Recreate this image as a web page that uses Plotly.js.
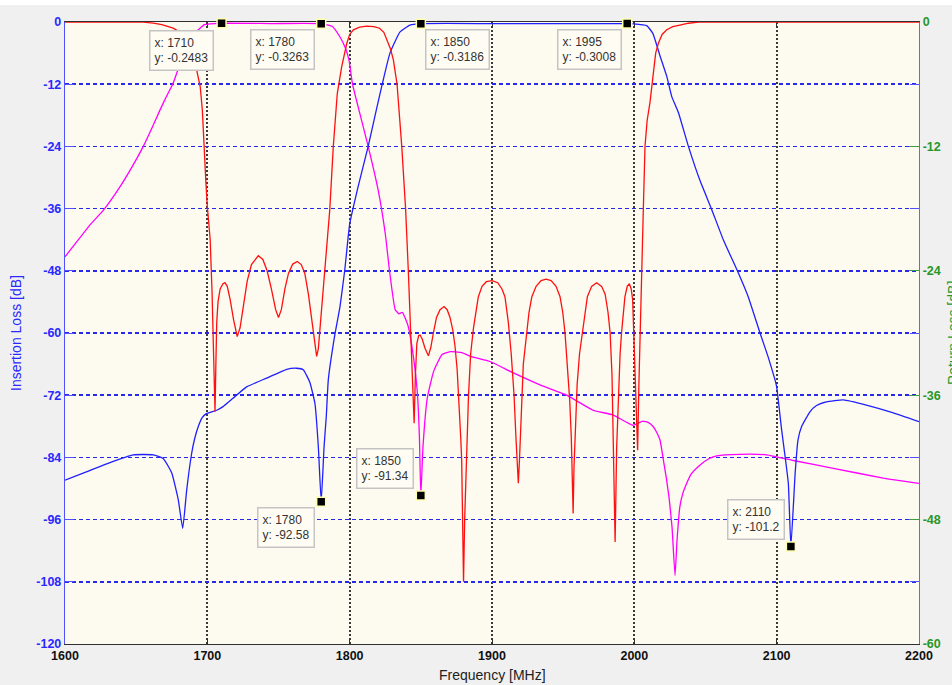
<!DOCTYPE html>
<html>
<head>
<meta charset="utf-8">
<script src="https://cdn.plot.ly/plotly-3.0.1.min.js"></script>
<style>
  html, body { margin: 0; padding: 0; background: #F0F0F0; }
  #chart { width: 952px; height: 685px; }
</style>
</head>
<body>
<div id="chart"></div>
<script>
// ---- Tx path insertion loss (magenta), dB, left axis ----
const txFreq = [1600, 1609.4, 1618, 1627, 1638.6, 1647, 1655, 1661, 1666.7, 1671, 1676, 1679, 1682, 1685,
  1687.8, 1691, 1694.9, 1698, 1710, 1745, 1780,
  1788, 1793, 1797, 1799.5, 1802, 1807, 1813, 1820, 1825, 1828, 1832, 1834.7, 1837, 1841, 1845, 1847.5, 1849,
  1850, 1851.5, 1854.5, 1859, 1864.8, 1870.6, 1878.8, 1885, 1898.6, 1915, 1933.7, 1952.5, 1971, 1985, 1999,
  2006, 2010, 2013, 2015, 2018, 2020.4, 2022.5, 2024.5, 2026.5, 2028.6, 2030, 2032, 2034, 2036.8, 2040, 2046,
  2052, 2057.9, 2074, 2093, 2111.7, 2139.8, 2174.9, 2200];
const txLoss = [-45.3, -42, -39, -36.3, -31.8, -28, -24, -20.5, -17, -14.5, -11.8, -9.5, -7.3, -5.2,
  -3.5, -2.2, -1.2, -0.5, -0.2483, -0.3, -0.3263,
  -0.9, -2.8, -5, -7.3, -12, -17.5, -24, -32.4, -40.8, -48, -55.5, -56.3, -56, -58.6, -65, -71.3, -80,
  -91.34, -82, -72.6, -67.4, -64.2, -63.6, -63.8, -64.5, -65.5, -67.7, -70, -72, -74.9, -75.8, -77.8,
  -77, -77.3, -78, -78.8, -80.6, -84.5, -88, -92, -97.5, -106.8, -100, -93.5, -91, -89, -87.2, -85.5,
  -84.3, -83.7, -83.4, -83.5, -84.6, -86.1, -88, -89];

// ---- Rx path insertion loss (blue), dB, left axis ----
const rxFreq = [1600, 1615, 1631.6, 1648, 1662, 1669, 1675, 1679.6, 1682.7, 1685.5, 1689, 1691, 1693.7, 1696.5,
  1699.6, 1706.6, 1711, 1718, 1727.6, 1741.7, 1755.8, 1762.8, 1767.4, 1772, 1775.6, 1778, 1780, 1782, 1783.6,
  1785, 1789.6, 1793.2, 1796.5, 1798, 1800, 1805.9, 1813, 1818.7, 1822.8, 1828.3, 1835.4, 1842.4, 1850, 1900,
  1950, 1995, 1999, 2008.7, 2013, 2018, 2022.8, 2026.3, 2031, 2038, 2046, 2054.4, 2062.5, 2072.4, 2080, 2088.3,
  2094, 2098.8, 2100, 2103.5, 2106, 2108.2, 2110, 2113, 2115, 2117.6, 2123.4, 2128, 2135, 2146.8, 2163, 2182, 2200];
const rxLoss = [-88.4, -86.8, -85, -83.5, -83.5, -84.2, -87, -92.2, -97.7, -90.3, -83.2, -80.5, -78, -76.3,
  -75.5, -74.9, -74.2, -72.6, -70.4, -68.7, -67, -66.8, -67.1, -69.5, -73.6, -82, -92.58, -82, -76,
  -69, -60.3, -54.9, -48, -44, -39, -31.8, -24, -17, -12.1, -6, -1.9, -0.6, -0.3186, -0.3,
  -0.3, -0.3008, -0.35, -0.7, -2.2, -6.5, -10.5, -14.4, -17.5, -24, -30.5, -36.2, -42, -48, -53, -60,
  -64.6, -69, -70.4, -78.7, -84, -89, -101.2, -87, -80.6, -78, -75.2, -74, -73.3, -72.9, -73.9, -75.4, -77.1];

// ---- Return loss (red), dB, right axis ----
const rlFreq = [1600, 1640, 1655, 1662, 1668, 1676, 1681, 1685.5, 1689, 1691, 1693, 1695, 1696.5, 1697.6,
  1699, 1700, 1702, 1703.3, 1704.2, 1705.4, 1706, 1706.6, 1707.5, 1709, 1711, 1712.4, 1714, 1716, 1718.5,
  1721, 1723, 1725, 1728, 1731, 1735.8, 1739, 1742, 1745, 1748, 1750, 1752, 1754.5, 1757, 1760, 1763.2,
  1766, 1768.5, 1771, 1773.5, 1775.5, 1776.8, 1778, 1779.5, 1781, 1782.7, 1784.5, 1786, 1788.5, 1791.3,
  1794.4, 1796.5, 1798, 1800, 1802.6, 1807, 1812, 1817, 1821, 1824, 1826.4, 1828.7, 1830.7, 1833.3, 1836.6,
  1839.3, 1841.2, 1842.9, 1844.7, 1845.3, 1846.2, 1847.2, 1848.5, 1849.5, 1851, 1853, 1855.3, 1857, 1858.8,
  1861, 1863.5, 1866.3, 1868.5, 1870.5, 1872.5, 1874, 1875.5, 1876.8, 1878, 1878.7, 1879.5, 1880, 1880.8,
  1881.5, 1882.3, 1883.5, 1885, 1887, 1890.4, 1893, 1896, 1900, 1904, 1907, 1909.1, 1911.5, 1913.5, 1915.5,
  1916.8, 1917.8, 1918.5, 1919.3, 1920.5, 1922, 1924.4, 1926, 1928, 1931, 1934.5, 1938, 1941.5, 1945, 1947.8,
  1949.7, 1951.3, 1953, 1954.6, 1955.7, 1956.4, 1957, 1957.6, 1958.5, 1959.8, 1961.5, 1963.5, 1965, 1967,
  1970, 1973.5, 1977, 1979.5, 1981.5, 1983, 1984.3, 1985.2, 1986.5, 1987.6, 1988.8, 1990, 1991, 1992.2,
  1993.4, 1995, 1996.5, 1997.8, 1998.8, 1999.6, 2000.5, 2001.3, 2002.3, 2003.2, 2004, 2005.2, 2006.3, 2007.5,
  2009, 2011, 2013.4, 2015, 2016.9, 2019.5, 2022.8, 2027, 2032, 2038, 2045, 2200];
const rlLoss = [0, 0, -0.02, -0.1, -0.25, -0.6, -1, -1.75, -2.8, -3.65, -4.8, -6.25, -8.5, -12,
  -15.5, -17.8, -21, -26, -32.3, -37.6, -33, -29, -27, -25.75, -25.25, -25.15, -25.5, -26.75, -28.75,
  -30.35, -29.5, -27.5, -25, -23.4, -22.55, -22.9, -24, -25.75, -27.75, -28.5, -27.75, -25.75, -24.25, -23.35, -23.1,
  -23.4, -24.25, -26.25, -29, -31.25, -32.25, -31.5, -29, -26.5, -24, -21, -18.15, -12, -6.9,
  -4.3, -2.8, -2.05, -1.2, -0.75, -0.5, -0.4, -0.45, -0.6, -1, -1.75, -2.6, -3.65, -6, -12,
  -18, -24, -30, -36, -38.7, -34, -31, -30.25, -30.2, -30.6, -31.5, -32.2, -31.4, -30,
  -28.5, -27.75, -27.45, -27.75, -28.5, -29.75, -31.25, -33.5, -36.5, -40, -42.25, -47.5, -54, -48,
  -44.5, -42.25, -36, -32, -29.5, -26.5, -25.5, -25.05, -24.95, -25.15, -25.75, -26.5, -29, -32, -36,
  -40, -42.25, -44.5, -42.25, -37.5, -33, -30, -28, -26.5, -25.5, -24.95, -24.8, -24.95, -25.5, -26.5,
  -28, -30, -33, -36.5, -40, -43, -47.4, -43, -39, -35, -32, -30, -28, -26.5,
  -25.5, -25.15, -25.5, -26.25, -28, -30, -34, -41, -50.15, -41, -36, -32, -30, -28,
  -26.5, -25.5, -25.25, -25.75, -26.75, -30, -34, -38, -41.3, -35, -30, -24, -18.15, -12,
  -9.5, -7.75, -4.5, -3, -2.05, -1.2, -0.75, -0.45, -0.3, -0.12, 0, 0];

// ---- Data tips ----
const tipFreq  = [1710, 1780, 1850, 1995, 1780, 1850, 2110];
const tipValue = [-0.2483, -0.3263, -0.3186, -0.3008, -92.58, -91.34, -101.2];
const tipShiftX = [-40, -39, 37, -38, -35, -36, -35];
const tipShiftY = [-27, -26, -26, -26, -26, 27, 27];

// ---- Axis ticks ----
const freqTicks = [1600, 1700, 1800, 1900, 2000, 2100, 2200];
const ilTicks = [0, -12, -24, -36, -48, -60, -72, -84, -96, -108, -120];
const rlTicks = [0, -12, -24, -36, -48, -60];

const FONT = 'Arial, "Liberation Sans", sans-serif';
const BLUE = 'rgb(40,40,255)';
const GREEN = 'rgb(40,150,40)';

const traces = [
  { x: txFreq, y: txLoss, type: 'scatter', mode: 'lines', yaxis: 'y',
    line: { color: '#FF00FF', width: 1.3, shape: 'spline', smoothing: 0.4 }, hoverinfo: 'skip', showlegend: false },
  { x: rxFreq, y: rxLoss, type: 'scatter', mode: 'lines', yaxis: 'y',
    line: { color: '#2020FF', width: 1.3, shape: 'spline', smoothing: 0.4 }, hoverinfo: 'skip', showlegend: false },
  { x: tipFreq, y: tipValue, type: 'scatter', mode: 'markers', yaxis: 'y', cliponaxis: false,
    marker: { symbol: 'square', size: 9, color: '#000000', line: { color: '#FFFFB0', width: 1.5 } },
    hoverinfo: 'skip', showlegend: false },
  { x: rlFreq, y: rlLoss, type: 'scatter', mode: 'lines', yaxis: 'y2',
    line: { color: '#FF1010', width: 1.3 }, hoverinfo: 'skip', showlegend: false }
];

const annotations = tipFreq.map((f, i) => ({
  x: f, y: tipValue[i], xref: 'x', yref: 'y',
  text: 'x: ' + f + '<br>y: ' + tipValue[i],
  showarrow: false, align: 'left', xanchor: 'center', yanchor: 'middle',
  xshift: tipShiftX[i], yshift: tipShiftY[i],
  font: { family: FONT, size: 12, color: '#333333' },
  bgcolor: '#FFFDF3', bordercolor: '#C4C4C4', borderwidth: 1.5, borderpad: 4
}));

annotations.push(
  { text: 'Insertion Loss [dB]', xref: 'paper', yref: 'paper', x: 0, y: 0.5,
    xshift: -49, textangle: -90, showarrow: false, xanchor: 'center', yanchor: 'middle',
    font: { family: FONT, size: 14, color: BLUE } },
  { text: 'Return Loss [dB]', xref: 'paper', yref: 'paper', x: 1, y: 0.5,
    xshift: 34, textangle: -90, showarrow: false, xanchor: 'center', yanchor: 'middle',
    font: { family: FONT, size: 14, color: GREEN } },
  { text: 'Frequency [MHz]', xref: 'paper', yref: 'paper', x: 0.5, y: 0,
    yshift: -31, showarrow: false, xanchor: 'center', yanchor: 'middle',
    font: { family: FONT, size: 14, color: '#222222' } }
);

const layout = {
  width: 952, height: 685,
  margin: { l: 65, r: 33, t: 22, b: 41, pad: 0 },
  paper_bgcolor: '#F0F0F0',
  plot_bgcolor: '#FDFAEF',
  showlegend: false,
  xaxis: {
    range: [1600, 2200], tickvals: freqTicks, ticktext: freqTicks.map(String),
    showgrid: true, gridcolor: '#3A3A3A', gridwidth: 2, griddash: '2px,2px',
    zeroline: false, showline: true, linecolor: '#303030', linewidth: 1.2, mirror: 'ticks',
    ticks: 'inside', ticklen: 5, tickcolor: '#303030',
    tickfont: { family: FONT, size: 12.5, color: '#111111', weight: 'bold' },
    layer: 'below traces', fixedrange: true
  },
  yaxis: {
    range: [-120, 0], tickvals: ilTicks, ticktext: ilTicks.map(String),
    showgrid: true, gridcolor: 'rgb(40,40,235)', gridwidth: 1.7, griddash: '4px,3px',
    zeroline: false, showline: true, linecolor: 'rgb(80,80,255)', linewidth: 1.2, mirror: 'ticks',
    ticks: 'inside', ticklen: 9, tickcolor: 'rgb(80,80,255)',
    tickfont: { family: FONT, size: 12.5, color: BLUE, weight: 'bold' },
    layer: 'below traces', fixedrange: true
  },
  yaxis2: {
    range: [-60, 0], tickvals: rlTicks, ticktext: rlTicks.map(String),
    overlaying: 'y', side: 'right', showgrid: false, zeroline: false,
    showline: true, linecolor: 'rgb(60,160,60)', linewidth: 1.2,
    ticks: 'inside', ticklen: 10, tickcolor: 'rgb(60,160,60)',
    tickfont: { family: FONT, size: 12.5, color: GREEN, weight: 'bold' },
    layer: 'below traces', fixedrange: true
  },
  shapes: [
    { type: 'rect', xref: 'paper', yref: 'paper', x0: -0.08, x1: 1.05, y0: 1.0273, y1: 1.04,
      fillcolor: '#FFFFFF', line: { width: 0 }, layer: 'above' }
  ],
  annotations: annotations
};

Plotly.newPlot('chart', traces, layout, { staticPlot: true, displayModeBar: false });
</script>
</body>
</html>
